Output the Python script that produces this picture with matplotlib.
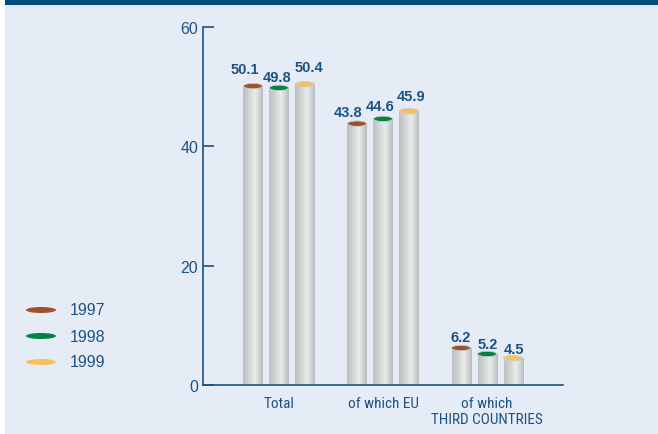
import numpy as np
import matplotlib.pyplot as plt
from matplotlib import font_manager
from matplotlib.patches import Ellipse, Rectangle
from matplotlib.colors import LinearSegmentedColormap

# Data
groups = ["Total", "of which EU", "of which\nTHIRD COUNTRIES"]
years = ["1997", "1998", "1999"]
v1997 = [50.1, 43.8, 6.2]
v1998 = [49.8, 44.6, 5.2]
v1999 = [50.4, 45.9, 4.5]
yticks = [0, 20, 40, 60]

# hand nudges of the value labels (pixels: dx, gap above bar top)
label_nudge = [
    [(-8, 17), (-8.5, 11.5), (0, 11.5)],
    [(-2, 11), (-2.5, 13), (0.5, 9.5)],
    [(4.5, 17), (2.5, 15), (1, 9.5)],
]

year_colors = ["#9e5030", "#00843f", "#f8bf5e"]
navy = "#1c5384"
bg = "#e5ecf6"

plt.rcParams["font.family"] = ["Liberation Sans", "DejaVu Sans"]

# condensed face for the category labels if one is installed
cond_family, cond_size = "Liberation Sans", 9.8
for name in ["Liberation Sans Narrow", "Roboto Condensed", "DejaVu Sans Condensed"]:
    try:
        font_manager.findfont(name, fallback_to_default=False)
        cond_family, cond_size = name, 11
        break
    except ValueError:
        pass

fig = plt.figure(figsize=(6.58, 4.35), dpi=100)
fig.set_facecolor(bg)

# white strip on the left and dark band on top
fig.patches.append(Rectangle((0, 0), 5 / 658, 1, transform=fig.transFigure,
                             facecolor="white", edgecolor="none", zorder=0))
fig.patches.append(Rectangle((5 / 658, 1 - 6 / 435), 1, 6 / 435,
                             transform=fig.transFigure, facecolor="#004b7e",
                             edgecolor="none", zorder=0))

ax = fig.add_axes([203 / 658, 49 / 435, 360 / 658, 358 / 435])
ax.set_facecolor("none")

# cylinder shading
cyl = LinearSegmentedColormap.from_list(
    "cyl", ["#bcc0c1", "#c9cdce", "#d8dbdc", "#eaeded", "#d4d7d8", "#b8bcbd"])
grad = np.linspace(0, 1, 64).reshape(1, -1)

bar_w = 0.183
offsets = [-0.25, 0, 0.25]
series = [v1997, v1998, v1999]
ell_h = 0.9
for s, vals in enumerate(series):
    for g, v in enumerate(vals):
        x = g + offsets[s]
        im = ax.imshow(grad, cmap=cyl, aspect="auto",
                       extent=(x - bar_w / 2, x + bar_w / 2, 0, v), zorder=2)
        clip = Rectangle((x - bar_w / 2, 0), bar_w, v, transform=ax.transData)
        im.set_clip_path(clip)
        ax.add_patch(Ellipse((x, v), bar_w, ell_h, facecolor=year_colors[s],
                             edgecolor="#c9cccd", linewidth=0.6, zorder=3))
        dx, dy = label_nudge[s][g]
        ax.annotate(f"{v:.1f}", (x, v), xytext=(dx * 0.72, dy * 0.72),
                    textcoords="offset points", ha="center", va="center",
                    fontsize=10.5, fontweight="bold", color=navy, zorder=4)

ax.set_xlim(-0.73, 2.73)
ax.set_ylim(0, 60)

# axes styling
for side in ["top", "right"]:
    ax.spines[side].set_visible(False)
for side in ["left", "bottom"]:
    ax.spines[side].set_color(navy)
    ax.spines[side].set_linewidth(1.2)
ax.set_yticks(yticks)
ax.set_yticklabels([str(t) for t in yticks])
ax.tick_params(axis="y", direction="in", length=8, width=1.2, color=navy,
               labelcolor=navy, labelsize=11.5, pad=3.5)
ax.set_xticks([0, 1, 2])
ax.set_xticklabels(groups, fontsize=cond_size, color=navy, linespacing=1.2,
                   family=[cond_family, "DejaVu Sans"])
for lbl in ax.get_xticklabels():
    lbl.set_multialignment("center")
ax.tick_params(axis="x", length=0, pad=8)

# legend
for i, (yr, c) in enumerate(zip(years, year_colors)):
    yf = 1 - (311 + 26 * i) / 435
    fig.patches.append(Ellipse((41 / 658, yf), 30 / 658, 6 / 435,
                               transform=fig.transFigure, facecolor=c,
                               edgecolor="none"))
    fig.text(70 / 658, yf, yr, ha="left", va="center", fontsize=11.5, color=navy)

fig.savefig("out.png", dpi=100, facecolor=fig.get_facecolor())
